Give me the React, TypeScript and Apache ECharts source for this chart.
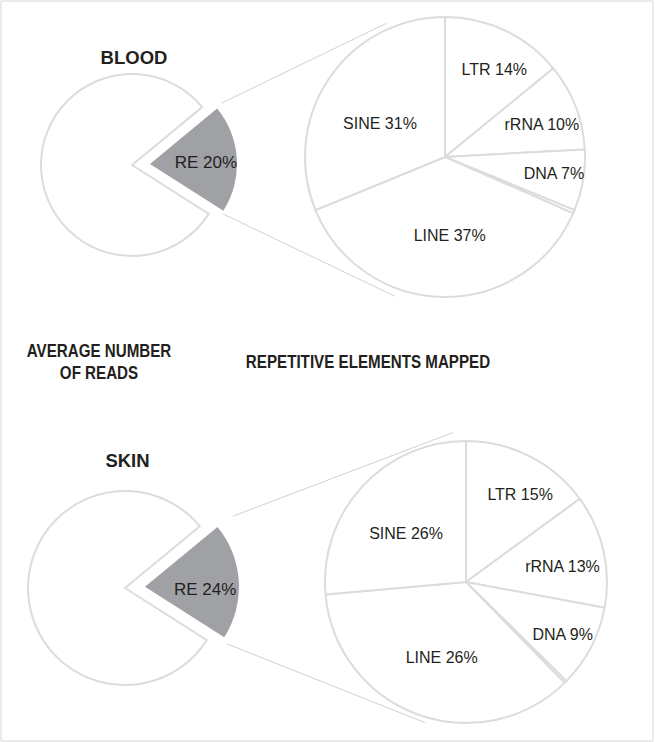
import React, { useEffect, useRef } from "react";
import * as echarts from "echarts";

// ---- data ----
const reCategories = ["RE", "Other reads"];
const bloodReads = [20, 80];
// wedge is drawn at ~20% in the source figure although its printed label reads 24%
const skinReads = [20, 80];
const rePrinted = [20, 24];

const repeatCategories = ["LTR", "rRNA", "DNA", "Other", "LINE", "SINE"];
const bloodRepeats = [14, 10, 7, 0.4, 37, 31];
// LINE slice is drawn at ~36% in the source figure although its printed label reads 26%
const skinRepeats = [15, 13, 9.5, 0.3, 36, 26.5];
const bloodPrinted = [14, 10, 7, null, 37, 31];
const skinPrinted = [15, 13, 9, null, 26, 26];

const tissueTitles = ["BLOOD", "SKIN"];
const columnTitles = ["AVERAGE NUMBER\nOF READS", "REPETITIVE ELEMENTS MAPPED"];

// ---- layout / style ----
const W = 655;
const H = 742;
const STROKE = "#dcdcdc";
const GREY = "#a0a1a4";
const INK = "#231f20";
const LINK = "#c4c4c4";
const FONT = "'Liberation Sans', Arial, sans-serif";
const SMALL_START = 39.5;

const rows = [
  {
    reads: bloodReads,
    repeats: bloodRepeats,
    printed: bloodPrinted,
    small: { c: [132, 165], r: 91, wedgeR: 87, offset: 18 },
    big: { c: [445, 157], r: 140 },
    title: [134, 57],
    reNudge: [0, 2],
    bigNudge: [
      [4.5, 7.4],
      [-0.6, 5.7],
      [5.9, -1.2],
      [0, 0],
      [5.6, 5.7],
      [-4.4, 7],
    ],
    links: [
      [40.3, 94, 113.6, 146],
      [-34.4, 88.5, -109.8, 148],
    ],
  },
  {
    reads: skinReads,
    repeats: skinRepeats,
    printed: skinPrinted,
    small: { c: [125, 588], r: 97, wedgeR: 94, offset: 20 },
    big: { c: [466, 582], r: 141 },
    title: [127.5, 460],
    reNudge: [0, 6],
    bigNudge: [
      [6.5, 6.8],
      [-6.1, 8],
      [3.4, 3.4],
      [0, 0],
      [1.2, 6.2],
      [-5.7, 1.6],
    ],
    links: [
      [38.7, 113, 95.1, 150],
      [-34.9, 99.6, -106.2, 146.5],
    ],
  },
];

function polar(c: number[], r: number, deg: number) {
  const a = (deg * Math.PI) / 180;
  return [c[0] + r * Math.cos(a), c[1] - r * Math.sin(a)];
}

const CLEAR = "rgba(0,0,0,0)";
const base: any = {
  type: "pie",
  silent: true,
  clockwise: true,
  avoidLabelOverlap: false,
  minAngle: 0,
  labelLine: { show: false },
  emphasis: { disabled: true },
};

function buildOption() {
  const series: any[] = [];
  const graphic: any[] = [];

  graphic.push({
    type: "rect",
    shape: { x: 1, y: 1, width: 652, height: 740 },
    style: { fill: "none", stroke: "#d6d6d6", lineWidth: 1 },
    silent: true,
  });

  rows.forEach((row, ri) => {
    const total = row.reads.reduce((a, b) => a + b, 0);
    const mid = SMALL_START - (360 * row.reads[0]) / total / 2;
    const apex = polar(row.small.c, row.small.offset, mid);

    // white remainder pie
    series.push({
      ...base,
      center: row.small.c,
      radius: row.small.r,
      startAngle: SMALL_START,
      label: { show: false },
      data: row.reads.map((v, i) => ({
        name: reCategories[i],
        value: v,
        itemStyle:
          i === 0
            ? { color: CLEAR, borderWidth: 0 }
            : { color: "#fff", borderColor: STROKE, borderWidth: 2 },
      })),
    });
    // exploded RE wedge
    series.push({
      ...base,
      center: apex,
      radius: row.small.wedgeR,
      startAngle: SMALL_START,
      label: { show: false },
      data: row.reads.map((v, i) => ({
        name: reCategories[i],
        value: v,
        itemStyle: { color: i === 0 ? GREY : CLEAR, borderWidth: 0 },
      })),
    });
    // RE label carrier
    series.push({
      ...base,
      center: apex,
      radius: [row.small.wedgeR * 0.22, row.small.wedgeR],
      startAngle: SMALL_START,
      label: {
        show: true,
        position: "inside",
        fontSize: 17,
        fontFamily: FONT,
        color: INK,
        textBorderWidth: 0,
      },
      labelLayout: () => ({ dx: row.reNudge[0], dy: row.reNudge[1] }),
      data: row.reads.map((v, i) => ({
        name: reCategories[i],
        value: v,
        itemStyle: { color: CLEAR, borderWidth: 0 },
        label:
          i === 0
            ? { show: true, formatter: `${reCategories[0]} ${rePrinted[ri]}%` }
            : { show: false },
      })),
    });

    // big breakdown pie
    const labelStyle = {
      position: "inside",
      fontSize: 16,
      fontFamily: FONT,
      color: INK,
      textBorderWidth: 0,
    };
    const nudge = (p: any) => ({
      dx: row.bigNudge[p.dataIndex][0],
      dy: row.bigNudge[p.dataIndex][1],
    });
    series.push({
      ...base,
      center: row.big.c,
      radius: row.big.r,
      startAngle: 90,
      label: labelStyle,
      labelLayout: nudge,
      data: row.repeats.map((v, i) => ({
        name: repeatCategories[i],
        value: v,
        itemStyle: { color: "#fff", borderColor: STROKE, borderWidth: 2 },
        label:
          row.printed[i] != null && v >= 20
            ? { show: true, formatter: `${repeatCategories[i]} ${row.printed[i]}%` }
            : { show: false },
      })),
    });
    series.push({
      ...base,
      center: row.big.c,
      radius: [row.big.r * 0.45, row.big.r],
      startAngle: 90,
      label: labelStyle,
      labelLayout: nudge,
      data: row.repeats.map((v, i) => ({
        name: repeatCategories[i],
        value: v,
        itemStyle: { color: CLEAR, borderWidth: 0 },
        label:
          row.printed[i] != null && v < 20
            ? { show: true, formatter: `${repeatCategories[i]} ${row.printed[i]}%` }
            : { show: false },
      })),
    });

    // connector lines
    row.links.forEach(([a0, r0, a1, r1]) => {
      const p0 = polar(apex, r0, a0);
      const p1 = polar(row.big.c, r1, a1);
      graphic.push({
        type: "line",
        silent: true,
        shape: { x1: p0[0], y1: p0[1], x2: p1[0], y2: p1[1] },
        style: { stroke: LINK, lineWidth: 0.8 },
      });
    });

    // tissue title
    graphic.push({
      type: "text",
      silent: true,
      style: {
        text: tissueTitles[ri],
        x: row.title[0],
        y: row.title[1],
        textAlign: "center",
        textVerticalAlign: "middle",
        fontSize: 18.5,
        fontWeight: "bold",
        fontFamily: FONT,
        fill: INK,
      },
    });
  });

  // column headings (condensed like the original typeface)
  const heads = [
    { x: 99, y: 362 },
    { x: 368, y: 362 },
  ];
  columnTitles.forEach((t, i) => {
    graphic.push({
      type: "text",
      silent: true,
      x: heads[i].x,
      y: heads[i].y,
      scaleX: 0.82,
      style: {
        text: t,
        x: 0,
        y: 0,
        textAlign: "center",
        textVerticalAlign: "middle",
        fontSize: 18.5,
        lineHeight: 22,
        fontWeight: "bold",
        fontFamily: FONT,
        fill: INK,
      },
    });
  });

  return {
    animation: false,
    backgroundColor: "#fff",
    series,
    graphic,
  };
}

export default function App() {
  const ref = useRef<HTMLDivElement>(null);
  useEffect(() => {
    document.body.style.margin = "0";
    if (!ref.current) return;
    const chart = echarts.init(ref.current, null, { renderer: "svg" });
    chart.setOption(buildOption() as any);
    return () => chart.dispose();
  }, []);
  return <div ref={ref} style={{ width: W, height: H }} />;
}
